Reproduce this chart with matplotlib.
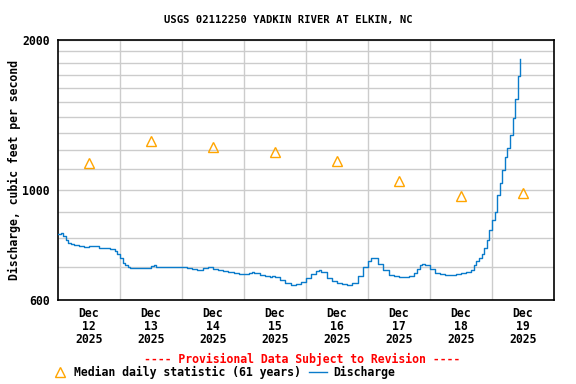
import matplotlib
matplotlib.use("Agg")
import matplotlib.pyplot as plt
from matplotlib.lines import Line2D
from matplotlib.ticker import FixedLocator, NullFormatter

# hours since Dec 12 2025 00:00
hours = [0, 1, 2, 3, 4, 5, 6, 8, 10, 12, 14, 16, 18, 20, 22, 23, 24, 25, 26, 27,
         28, 30, 32, 34, 36, 37, 38, 40, 42, 44, 46, 48, 50, 52, 54, 56, 58, 60,
         62, 64, 66, 68, 70, 72, 74, 75, 76, 78, 80, 82, 83, 84, 86, 88, 90, 92,
         94, 96, 98, 100, 101, 102, 104, 106, 108, 110, 112, 114, 116, 118, 120,
         121, 122, 124, 126, 128, 130, 132, 134, 136, 138, 139, 140, 141, 142,
         144, 146, 148, 150, 152, 154, 156, 158, 160, 161, 162, 163, 164, 165,
         166, 167, 168, 169, 170, 171, 172, 173, 174, 175, 176, 177, 178, 179]
discharge = [815, 818, 808, 792, 781, 778, 774, 770, 768, 770, 770, 765, 762, 759,
             753, 742, 729, 712, 706, 699, 697, 696, 695, 695, 702, 704, 699, 699,
             699, 698, 698, 699, 696, 693, 691, 696, 699, 693, 689, 686, 683, 680,
             678, 677, 680, 683, 680, 674, 669, 668, 672, 668, 658, 649, 644, 646,
             652, 664, 677, 686, 688, 683, 664, 655, 650, 647, 643, 649, 671, 699,
             718, 729, 729, 709, 689, 675, 669, 666, 666, 669, 680, 694, 706, 709,
             704, 693, 681, 677, 674, 674, 677, 680, 683, 691, 706, 718, 729, 742,
             763, 792, 830, 869, 903, 976, 1031, 1096, 1164, 1213, 1288, 1394, 1520,
             1690, 1832]

# median daily statistic, plotted at noon of each day
median_hours = [12, 36, 60, 84, 108, 132, 156, 180]
median_values = [1130, 1250, 1220, 1190, 1140, 1040, 970, 985]

day_labels = ["Dec\n12\n2025", "Dec\n13\n2025", "Dec\n14\n2025", "Dec\n15\n2025",
              "Dec\n16\n2025", "Dec\n17\n2025", "Dec\n18\n2025", "Dec\n19\n2025"]

font = "DejaVu Sans Mono"
orange = "#FFA500"
blue = "#0A7BCB"

fig = plt.figure(figsize=(5.76, 3.84), dpi=100)
ax = fig.add_axes([58 / 576, 84 / 384, 496 / 576, 260 / 384])

ax.plot(hours, discharge, color=blue, lw=1.0, drawstyle="steps-post", zorder=3)
ax.plot(median_hours, median_values, ls="none", marker="^", ms=7.5,
        mfc="none", mec=orange, mew=1.0, zorder=4)

ax.set_yscale("log")
ax.set_ylim(600, 2000)
ax.set_xlim(0, 192)

ax.yaxis.set_major_locator(FixedLocator([600, 1000, 2000]))
ax.set_yticklabels(["600", "1000", "2000"])
ax.yaxis.set_minor_locator(FixedLocator([700, 800, 900, 1100, 1200, 1300, 1400,
                                         1500, 1600, 1700, 1800, 1900]))
ax.yaxis.set_minor_formatter(NullFormatter())

ax.set_xticks(median_hours)
ax.set_xticklabels(day_labels, linespacing=1.0)
ax.set_xticks(range(24, 192, 24), minor=True)

ax.tick_params(which="both", length=0)
ax.tick_params(axis="y", pad=6)
ax.tick_params(axis="x", pad=5)
for lab in ax.get_xticklabels() + ax.get_yticklabels():
    lab.set_fontfamily(font)
    lab.set_fontweight("bold")
    lab.set_fontsize(8.3)

ax.grid(which="minor", color="#cccccc", lw=1.0)
ax.grid(which="major", axis="y", color="#cccccc", lw=1.0)
ax.set_axisbelow(True)
for s in ax.spines.values():
    s.set_linewidth(1.2)

ax.set_ylabel("Discharge, cubic feet per second", fontfamily=font,
              fontweight="bold", fontsize=8.3, labelpad=1)
fig.text(0.5, 1 - 20 / 384, "USGS 02112250 YADKIN RIVER AT ELKIN, NC",
         ha="center", va="center", fontfamily=font, fontweight="bold", fontsize=7.6)

fig.text(302 / 576, 1 - 359 / 384, "---- Provisional Data Subject to Revision ----",
         ha="center", va="center", color="red", fontfamily=font,
         fontweight="bold", fontsize=8.3)

# legend
ly = 1 - 372 / 384
fig.add_artist(Line2D([60 / 576], [ly], transform=fig.transFigure, ls="none",
                      marker="^", ms=7.5, mfc="none", mec=orange, mew=1.0))
fig.text(74 / 576, ly, "Median daily statistic (61 years)", ha="left", va="center",
         fontfamily=font, fontweight="bold", fontsize=8.3)
fig.add_artist(Line2D([309 / 576, 327 / 576], [ly, ly], transform=fig.transFigure,
                      color=blue, lw=1.0))
fig.text(333 / 576, ly, "Discharge", ha="left", va="center",
         fontfamily=font, fontweight="bold", fontsize=8.3)

fig.savefig("out.png", dpi=100)
